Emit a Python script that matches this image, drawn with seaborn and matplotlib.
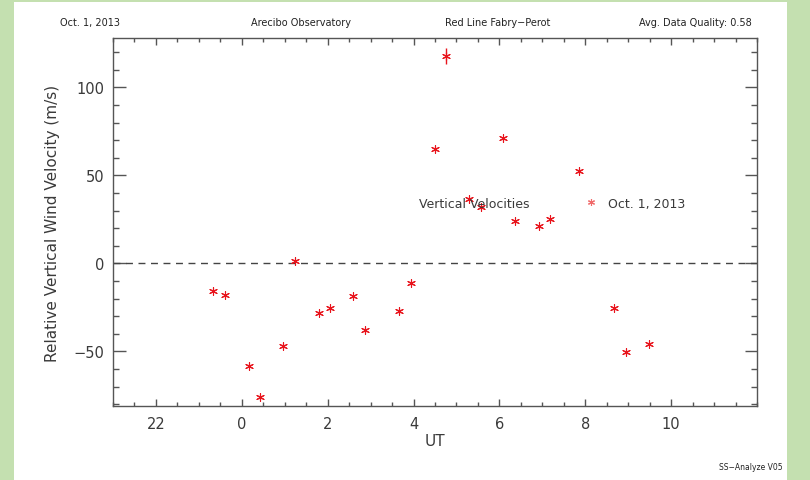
import numpy as np
import pandas as pd
import matplotlib
matplotlib.use("Agg")
import matplotlib.pyplot as plt
from matplotlib.patches import Rectangle
from matplotlib.lines import Line2D
import seaborn as sns

# UT hours (hours before 0 are the previous evening, 22 = -2)
ut_hours = [-0.67, -0.38, 0.16, 0.42, 0.97, 1.25, 1.79, 2.05, 2.59, 2.86,
            3.66, 3.93, 4.49, 4.75, 5.30, 5.57, 6.09, 6.37, 6.93, 7.19,
            7.85, 8.67, 8.94, 9.49]
velocity = [-15.5, -18.2, -58.0, -76.0, -46.8, 1.5, -28.0, -25.6, -18.8, -37.8,
            -26.9, -11.0, 65.0, 117.8, 36.8, 32.0, 71.0, 23.9, 21.0, 25.0,
            52.6, -25.6, -50.2, -45.6]
vel_err = [1.0, 1.0, 1.0, 1.0, 1.0, 1.0, 1.0, 1.0, 1.0, 1.0,
           1.0, 1.0, 1.0, 4.8, 1.0, 1.0, 1.0, 1.0, 1.0, 1.0,
           1.0, 1.0, 1.0, 1.0]
x_tick_pos = [-2, 0, 2, 4, 6, 8, 10]
x_tick_lab = ["22", "0", "2", "4", "6", "8", "10"]
y_tick_pos = [-50, 0, 50, 100]

df = pd.DataFrame({"UT": ut_hours, "vel": velocity, "err": vel_err})

sns.set_style("white")
plt.rcParams["font.family"] = ["DejaVu Sans"]
axis_col = "#555555"
txt_col = "#3a3a3a"
red = "#e8141c"

fig = plt.figure(figsize=(8.1, 4.81), dpi=100)
fig.patch.set_facecolor("#c4e0b0")
fig.patches.append(Rectangle((14 / 810, 0), (787 - 14) / 810, 1 - 3 / 481,
                             transform=fig.transFigure, facecolor="white",
                             edgecolor="none", zorder=-1))

ax = fig.add_axes([113 / 810, 74 / 481, 644 / 810, 368 / 481])
ax.set_zorder(2)
ax.set_facecolor("white")

ax.axhline(0, color="#444444", lw=1, ls=(0, (5, 4)), zorder=1)
ax.errorbar(df["UT"], df["vel"], yerr=df["err"], fmt="none", ecolor=red,
            elinewidth=1, zorder=2)
sns.scatterplot(data=df, x="UT", y="vel", ax=ax, marker=(6, 2, 0), s=32,
                color=red, edgecolor=red, linewidth=0.8, zorder=3, legend=False)

ax.set_xlim(-3, 12)
ax.set_ylim(-81, 128)
ax.set_xticks(x_tick_pos)
ax.set_xticklabels(x_tick_lab)
ax.set_xticks(np.arange(-3, 12.01, 0.5), minor=True)
ax.set_yticks(y_tick_pos)
ax.set_yticks(np.arange(-80, 128, 10), minor=True)

for s in ax.spines.values():
    s.set_visible(True)
    s.set_color(axis_col)
    s.set_linewidth(1)
ax.tick_params(axis="x", which="major", direction="in", length=5, width=1,
               color=axis_col, top=True, bottom=True, labelsize=10.5,
               labelcolor=txt_col, pad=7)
ax.tick_params(axis="x", which="minor", direction="in", length=3, width=1,
               color=axis_col, top=True, bottom=True)
ax.tick_params(axis="y", which="major", direction="in", length=9, width=1,
               color=axis_col, left=True, right=True, labelsize=10.5,
               labelcolor=txt_col, pad=6)
ax.tick_params(axis="y", which="minor", direction="in", length=4.5, width=1,
               color=axis_col, left=True, right=True)

ax.set_xlabel("UT", fontsize=11, color=txt_col, labelpad=2)
ax.set_ylabel("Relative Vertical Wind Velocity (m/s)", fontsize=11,
              color=txt_col, labelpad=10)

ax.text(0.5606, 0.549, "Vertical Velocities", transform=ax.transAxes,
        ha="center", va="center", fontsize=9, color=txt_col)
handle = Line2D([], [], ls="none", marker=(6, 2, 0), markersize=5,
                color="#f06a6a", mew=0.8)
ax.legend([handle], ["Oct. 1, 2013"], loc="center left",
          bbox_to_anchor=(0.733, 0.551), frameon=False, fontsize=9,
          handlelength=1.0, handletextpad=0.8, borderpad=0, borderaxespad=0,
          labelcolor=txt_col)

hdr = dict(fontsize=7, color="#222222", va="center")
fig.text(60 / 810, 1 - 23 / 481, "Oct. 1, 2013", ha="left", **hdr)
fig.text(301 / 810, 1 - 23 / 481, "Arecibo Observatory", ha="center", **hdr)
fig.text(498 / 810, 1 - 23 / 481, "Red Line Fabry\u2212Perot", ha="center", **hdr)
fig.text(752 / 810, 1 - 23 / 481, "Avg. Data Quality: 0.58", ha="right", **hdr)
fig.text(783 / 810, 1 - 468 / 481, "SS\u2212Analyze V05", ha="right",
         fontsize=5.5, color="#222222", va="center")

fig.savefig("out.png", dpi=100, facecolor=fig.get_facecolor())
